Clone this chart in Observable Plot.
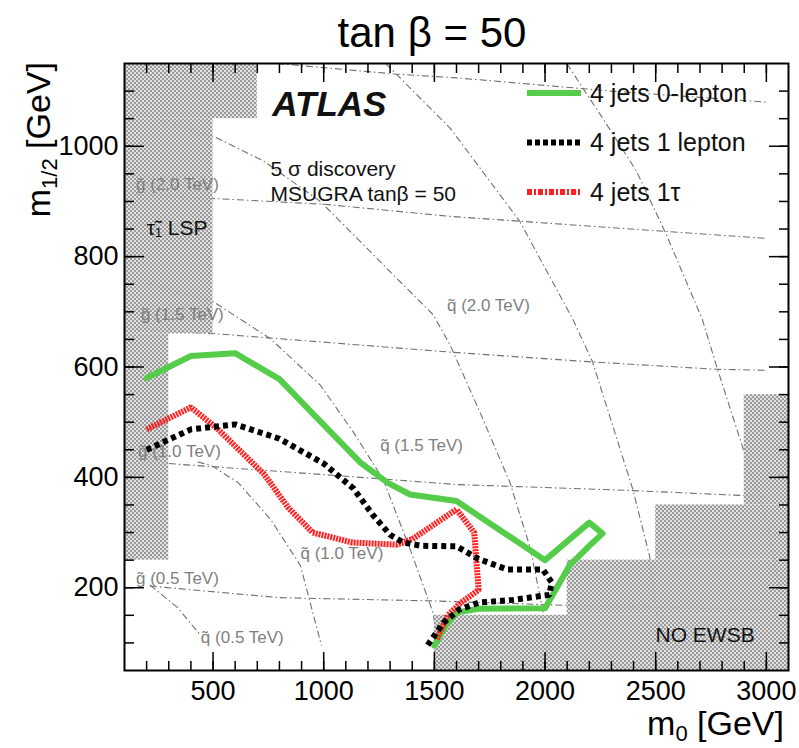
<!DOCTYPE html>
<html><head><meta charset="utf-8">
<script src="https://cdn.jsdelivr.net/npm/d3@7"></script>
<script src="https://cdn.jsdelivr.net/npm/@observablehq/plot@0.6"></script>
<style>
body{margin:0;background:#fff;}
#chart svg{display:block;}
</style></head><body>
<svg width="0" height="0" style="position:absolute">
<defs><pattern id="checker" width="4" height="4" patternUnits="userSpaceOnUse">
<rect width="4" height="4" fill="#dcdcdc" fill-opacity="0.85"/>
<rect width="2" height="2" fill="#999999"/><rect x="2" y="2" width="2" height="2" fill="#999999"/>
</pattern></defs></svg>
<div id="chart"></div>
<script>
// ---- discovery contours (m0, m1/2) ----
const zeroLepton = [[200,580],[400,620],[600,625],[800,578],[1000,495],[1165,427],[1290,390],[1390,369],[1600,357],[2000,250],[2200,318],[2260,298],[2200,276],[2110,240],[2000,163],[1700,162],[1600,155],[1550,130],[1500,95]];
const oneLepton = [[200,450],[400,487],[600,496],[800,470],[1000,425],[1134,380],[1224,331],[1300,296],[1360,282],[1440,276],[1600,275],[1700,252],[1830,233],[1990,233],[2030,210],[2020,187],[1855,178],[1700,173],[1610,160],[1540,136],[1470,96]];
const oneTau = [[200,487],[400,527],[520,488],[730,406],[840,345],[950,300],[1130,282],[1330,278],[1400,288],[1600,342],[1680,300],[1700,196],[1620,173],[1560,150],[1510,106]];

// ---- iso-mass lines ----
const gluino05 = [[215,203],[800,182],[1500,176],[2100,168],[3000,160]];
const gluino10 = [[300,425],[1000,405],[1600,387],[2400,376],[2900,367],[3000,365]];
const gluino15 = [[150,668],[520,660],[1000,645],[1570,627],[2220,609],[2770,596],[3000,594]];
const gluino20 = [[150,912],[520,905],[1000,895],[1570,873],[3000,833]];
const gluino25 = [[790,1150],[1320,1131],[1600,1124],[2300,1100],[3000,1080]];
const squark05 = [[215,205],[340,164],[445,113]];
const squark10 = [[430,428],[490,422],[612,391],[760,324],[895,240],[990,95]];
const squark15 = [[200,752],[503,718],[760,651],[985,567],[1134,482],[1269,396],[1391,269],[1494,155],[1530,60]];
const squark20 = [[200,1055],[503,1018],[729,973],[985,900],[1134,840],[1287,778],[1494,695],[1571,640],[1706,518],[1841,391],[1931,275],[1990,160],[2010,60]];
const squark25 = [[1280,1150],[1571,1033],[1886,864],[2125,687],[2215,609],[2396,379],[2472,258],[2520,100]];
const squark30 = [[2098,1150],[2260,1051],[2413,955],[2548,840],[2710,687],[2773,604],[2890,458],[3000,324],[3060,200]];

const isoLabels = [
  {text:"g\u0303 (2.0 TeV)", x:152, y:931},
  {text:"g\u0303 (1.5 TeV)", x:174, y:695},
  {text:"g\u0303 (1.0 TeV)", x:161, y:447},
  {text:"g\u0303 (0.5 TeV)", x:152, y:216},
  {text:"q\u0303 (2.0 TeV)", x:1557, y:711},
  {text:"q\u0303 (1.5 TeV)", x:1255, y:458},
  {text:"q\u0303 (1.0 TeV)", x:895, y:262},
  {text:"q\u0303 (0.5 TeV)", x:445, y:109}
];

// ---- excluded regions [m0 from, m0 to, m1/2 from, m1/2 to] ----
const lspRegion = [[100,700,1050,1150],[100,500,660,1050],[100,300,250,660]];
const noEwsbRegion = [[1500,3100,50,150],[2100,3100,150,250],[2500,3100,250,350],[2900,3100,350,550]];

const notes = [
  {text:"ATLAS", x:768, y:1076, kind:"atlas"},
  {text:"5 \u03c3 discovery", x:760, y:958, kind:"note"},
  {text:"MSUGRA tan\u03b2 = 50", x:760, y:913, kind:"note"},
  {text:"\u03c4\u0303\u2081 LSP", x:200, y:851, kind:"note"},
  {text:"NO EWSB", x:2499, y:113, kind:"note"}
];

const xMajorTicks = [500,1000,1500,2000,2500,3000];
const xMinorTicks = [200,300,400,500,600,700,800,900,1000,1100,1200,1300,1400,1500,1600,1700,1800,1900,2000,2100,2200,2300,2400,2500,2600,2700,2800,2900,3000];
const yMajorTicks = [200,400,600,800,1000];
const yMinorTicks = [100,150,200,250,300,350,400,450,500,550,600,650,700,750,800,850,900,950,1000,1050,1100];

const seriesNames = ["4 jets 0-lepton","4 jets 1 lepton","4 jets 1\u03c4"];
const title = "tan \u03b2 = 50";

// ---- build tables ----
const rows = (pts, name) => pts.map(([x, y]) => ({x, y, name}));
const isoRows = [
  ...rows(gluino05,"g05"),...rows(gluino10,"g10"),...rows(gluino15,"g15"),...rows(gluino20,"g20"),...rows(gluino25,"g25"),
  ...rows(squark05,"q05"),...rows(squark10,"q10"),...rows(squark15,"q15"),...rows(squark20,"q20"),...rows(squark25,"q25"),...rows(squark30,"q30")
];
const regionRows = [...lspRegion, ...noEwsbRegion].map(([x1,x2,y1,y2]) => ({x1,x2,y1,y2}));

const FONT = "'Liberation Sans', Arial, Helvetica, sans-serif";
const tickStyle = {stroke:"black", strokeWidth:1.5, fill:"none", label:null};

const chart = Plot.plot({
  width: 799, height: 748,
  marginLeft: 124, marginRight: 11, marginTop: 63, marginBottom: 78,
  x: {domain: [100, 3100]},
  y: {domain: [50, 1150]},
  style: {fontFamily: FONT, background: "white", color: "black"},
  marks: [
    Plot.line(isoRows, {x:"x", y:"y", z:"name", stroke:"#707070", strokeWidth:1.1, strokeLinecap:"butt", strokeDasharray:"7,3,1.5,3"}),
    Plot.rect(regionRows, {x1:"x1", x2:"x2", y1:"y1", y2:"y2", fill:"url(#checker)"}),
    Plot.text(isoLabels, {x:"x", y:"y", text:"text", textAnchor:"start", fill:"#808080", fontSize:17}),
    Plot.text(notes.filter(d => d.kind === "note"), {x:"x", y:"y", text:"text", textAnchor:"start", fill:"#111", fontSize:21}),
    Plot.text(notes.filter(d => d.kind === "atlas"), {x:"x", y:"y", text:"text", textAnchor:"start", fill:"#111", fontSize:35, fontWeight:"bold", fontStyle:"italic"}),
    Plot.line(rows(zeroLepton,"z"), {x:"x", y:"y", stroke:"#55cc4a", strokeWidth:6, strokeLinejoin:"round"}),
    Plot.line(rows(oneTau,"t"), {x:"x", y:"y", stroke:"#ff2020", strokeWidth:6, strokeLinecap:"butt", strokeLinejoin:"miter", strokeDasharray:"2,1"}),
    Plot.line(rows(oneLepton,"l"), {x:"x", y:"y", stroke:"black", strokeWidth:6, strokeLinecap:"butt", strokeLinejoin:"miter", strokeDasharray:"5,4"}),
    // tick labels
    Plot.axisX(xMajorTicks, {anchor:"bottom", tickSize:0, tickPadding:10, fontSize:27, label:null, tickFormat: d => String(d)}),
    Plot.axisY(yMajorTicks, {anchor:"left", tickSize:0, tickPadding:6, fontSize:27, label:null, tickFormat: d => String(d)}),
    // inward ticks
    Plot.axisX(xMajorTicks, {anchor:"bottom", tickSize:18, dy:-18, ...tickStyle}),
    Plot.axisX(xMinorTicks, {anchor:"bottom", tickSize:9, dy:-9, ...tickStyle}),
    Plot.axisX(xMajorTicks, {anchor:"top", tickSize:18, dy:18, ...tickStyle}),
    Plot.axisX(xMinorTicks, {anchor:"top", tickSize:9, dy:9, ...tickStyle}),
    Plot.axisY(yMajorTicks, {anchor:"left", tickSize:20, dx:20, ...tickStyle}),
    Plot.axisY(yMinorTicks, {anchor:"left", tickSize:10, dx:10, ...tickStyle}),
    Plot.axisY(yMajorTicks, {anchor:"right", tickSize:20, dx:-20, ...tickStyle}),
    Plot.axisY(yMinorTicks, {anchor:"right", tickSize:10, dx:-10, ...tickStyle}),
    Plot.frame({stroke:"black", strokeWidth:2})
  ]
});

const svg = d3.select(chart);
// title
svg.append("text").attr("x", 432).attr("y", 47).attr("text-anchor", "middle")
  .attr("font-family", FONT).attr("font-size", 42).attr("fill", "black").text(title);
// y label
const yl = svg.append("text").attr("transform", "translate(50,62) rotate(-90)").attr("text-anchor", "end")
  .attr("font-family", FONT).attr("font-size", 34).attr("fill", "black");
yl.append("tspan").text("m");
yl.append("tspan").attr("font-size", 22).attr("dy", 7).text("1/2");
yl.append("tspan").attr("dy", -7).text(" [GeV]");
// x label
const xl = svg.append("text").attr("x", 784).attr("y", 735).attr("text-anchor", "end")
  .attr("font-family", FONT).attr("font-size", 34).attr("fill", "black");
xl.append("tspan").text("m");
xl.append("tspan").attr("font-size", 22).attr("dy", 6).text("0");
xl.append("tspan").attr("dy", -6).text(" [GeV]");
// legend
const legendStyles = [
  {stroke:"#55cc4a", dash:null},
  {stroke:"black", dash:"5,3"},
  {stroke:"#ff2020", dash:"5,2,2,2"}
];
const lg = svg.append("g").attr("font-family", FONT).attr("font-size", 25).attr("text-anchor", "start");
seriesNames.forEach((name, i) => {
  const cy = 93 + i * 49.5;
  const ln = lg.append("line").attr("x1", 527).attr("x2", 581).attr("y1", cy).attr("y2", cy)
    .attr("stroke", legendStyles[i].stroke).attr("stroke-width", 6).attr("stroke-linecap", "butt");
  if (legendStyles[i].dash) ln.attr("stroke-dasharray", legendStyles[i].dash);
  lg.append("text").attr("x", 590).attr("y", cy).attr("dy", "0.35em").attr("fill", "#111").text(name);
});
document.getElementById("chart").appendChild(chart);
</script>
</body></html>
